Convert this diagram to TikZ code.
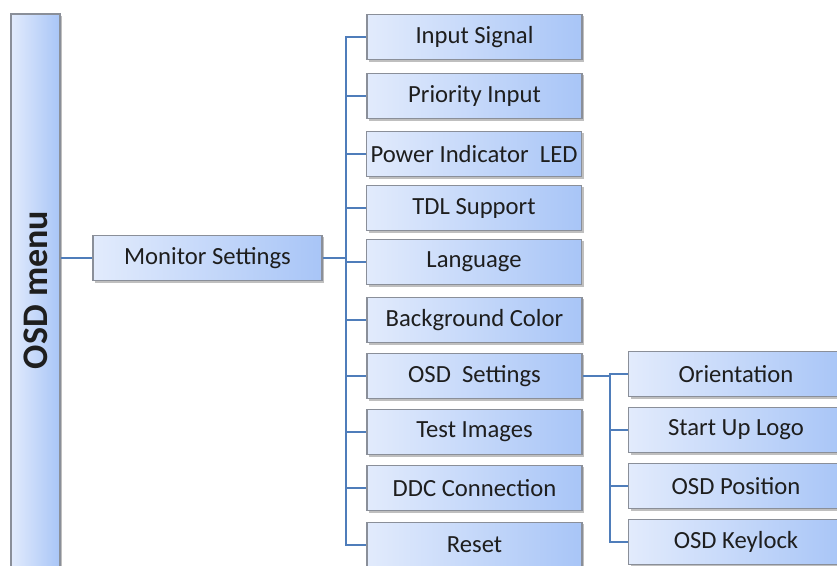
\documentclass[tikz,border=0pt]{standalone}
\usepackage{fontspec}
\setmainfont{Carlito}
\usetikzlibrary{shadows}
\definecolor{boxL}{HTML}{E2EBFC}
\definecolor{boxR}{HTML}{A8C5F7}
\definecolor{boxD}{HTML}{8A8F99}
\definecolor{conn}{HTML}{4F7DBA}
\definecolor{txt}{HTML}{1E1E1E}
\tikzset{
  menubox/.style={draw=boxD, line width=1.2pt, left color=boxL, right color=boxR,
    minimum width=161.25pt, minimum height=34pt, inner sep=0pt,
    text=txt, font=\fontsize{18.5}{21}\selectfont,
    drop shadow={shadow xshift=1.5pt, shadow yshift=-1.5pt, fill=black, opacity=0.25}},
  connline/.style={draw=conn, line width=1.1pt}
}
\begin{document}
\begin{tikzpicture}[x=0.75pt, y=-0.75pt]
\useasboundingbox (0,0) rectangle (837,565);
\clip (0,0) rectangle (837,565);
% root bar
\node[menubox, minimum width=36.75pt, minimum height=420pt] (bar) at (35.5,294) {};
\node[rotate=90, text=txt, font=\fontsize{27}{30}\selectfont\bfseries] (bartext) at (35.5,290) {OSD menu};
% level 1
\node[menubox, minimum width=171.75pt] (ms) at (207.5,258) {Monitor Settings};
% level 2
\node[menubox] (n1) at (474.5,37) {Input Signal};
\node[menubox] (n2) at (474.5,96) {Priority Input};
\node[menubox] (n3) at (474,154) {Power Indicator\ \ LED};
\node[menubox] (n4) at (474,208) {TDL Support};
\node[menubox] (n5) at (474,262) {Language};
\node[menubox] (n6) at (474.5,320) {Background Color};
\node[menubox] (n7) at (474.5,376) {OSD\ \ Settings};
\node[menubox] (n8) at (474.5,432) {Test Images};
\node[menubox] (n9) at (474.5,488) {DDC Connection};
\node[menubox] (n10) at (474.5,545) {Reset};
% level 3
\node[menubox] (s1) at (736,374) {Orientation};
\node[menubox] (s2) at (736,430) {Start Up Logo};
\node[menubox] (s3) at (736,486) {OSD Position};
\node[menubox] (s4) at (736,542) {OSD Keylock};
% connectors
\coordinate (t) at (346,0);
\coordinate (s) at (610,0);
\draw[connline] (bar.east |- ms.west) -- (ms.west);
\draw[connline] (ms.east) -- (t |- ms.east);
\foreach \c in {n1,n2,n3,n4,n5,n6,n7,n8,n9,n10}
  \draw[connline] (t |- ms.east) |- (\c.west);
\draw[connline] (n7.east) -- (s |- n7.east);
\foreach \c in {s1,s2,s3,s4}
  \draw[connline] (s |- n7.east) |- (\c.west);
\end{tikzpicture}
\end{document}
